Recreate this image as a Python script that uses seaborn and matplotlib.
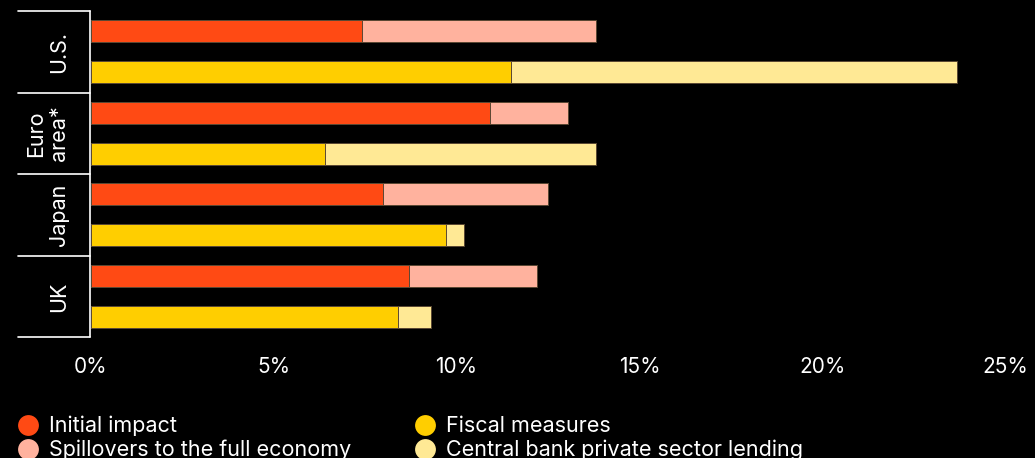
import matplotlib
matplotlib.use("Agg")
import matplotlib.pyplot as plt
import matplotlib.transforms as mtransforms
from matplotlib.lines import Line2D
import pandas as pd
import seaborn as sns

# Shares of GDP (%)
countries = ["U.S.", "Euro\narea*", "Japan", "UK"]
initial_impact = [7.4, 10.9, 8.0, 8.7]
spillovers = [6.4, 2.15, 4.5, 3.5]
fiscal_measures = [11.5, 6.4, 9.7, 8.4]
cb_lending = [12.2, 7.4, 0.5, 0.9]
x_ticks = [0, 5, 10, 15, 20, 25]

legend_labels = ["Initial impact", "Spillovers to the full economy",
                 "Fiscal measures", "Central bank private sector lending"]
c_impact, c_spill, c_fiscal, c_lend = "#FF4A14", "#FFB29E", "#FFCE00", "#FFE995"

sns.set_theme(style="white")
plt.rcParams["font.family"] = ["Inter", "DejaVu Sans"]

rows, base, total, base_pal, top_pal = [], [], [], {}, {}
for i, c in enumerate(countries):
    r1, r2 = f"{c}|shock", f"{c}|response"
    rows += [r1, r2]
    base += [initial_impact[i], fiscal_measures[i]]
    total += [initial_impact[i] + spillovers[i], fiscal_measures[i] + cb_lending[i]]
    base_pal[r1], base_pal[r2] = c_impact, c_fiscal
    top_pal[r1], top_pal[r2] = c_spill, c_lend

df = pd.DataFrame({"row": rows, "base": base, "total": total})

fig = plt.figure(figsize=(10.35, 4.58), dpi=100, facecolor="black")
ax = fig.add_axes([91 / 1035, 1 - 337 / 458, 914 / 1035, 326 / 458])
ax.set_facecolor("black")

edge = dict(edgecolor=(0.35, 0.28, 0.2), linewidth=0.7)
sns.barplot(data=df, x="total", y="row", hue="row", palette=top_pal, order=rows,
            width=0.54, saturation=1, legend=False, ax=ax, **edge)
sns.barplot(data=df, x="base", y="row", hue="row", palette=base_pal, order=rows,
            width=0.54, saturation=1, legend=False, ax=ax, **edge)

ax.set_xlim(0, 25)
ax.set_ylim(len(rows) - 0.5, -0.5)
ax.set_xticks(x_ticks)
ax.set_xticklabels([f"{v}%" for v in x_ticks])
ax.set_yticks([])
ax.set_xlabel("")
ax.set_ylabel("")
ax.tick_params(axis="x", length=0, pad=14.5, labelsize=15, labelcolor="white")
for s in ax.spines.values():
    s.set_visible(False)

# Country brackets on the left
trans = mtransforms.blended_transform_factory(ax.transAxes, ax.transData)
x_left, x_right = (18 - 91) / 914, (90 - 91) / 914
for k in range(len(countries) + 1):
    yb = 2 * k - 0.5
    ax.plot([x_left, x_right], [yb, yb], color="white", lw=1.2,
            transform=trans, clip_on=False)
ax.plot([x_right, x_right], [-0.5, len(rows) - 0.5], color="white", lw=1.2,
        transform=trans, clip_on=False)
for k, c in enumerate(countries):
    ax.text((69 - 91) / 914, 2 * k + 0.5, c, transform=trans, rotation=90,
            ha="right", va="center", multialignment="center",
            color="white", fontsize=15.5)

handles = [Line2D([], [], marker="o", linestyle="none", markersize=15,
                  markerfacecolor=col, markeredgecolor="none")
           for col in (c_impact, c_spill, c_fiscal, c_lend)]
fig.legend(handles, legend_labels, loc="upper left",
           bbox_to_anchor=(17 / 1035, 1 - 416 / 458), ncol=2, frameon=False,
           fontsize=15.5, labelcolor="white", handlelength=1.0,
           handletextpad=0.5, columnspacing=2.9, labelspacing=0.16,
           borderpad=0, borderaxespad=0)

fig.savefig("out.png", dpi=100, facecolor="black")
